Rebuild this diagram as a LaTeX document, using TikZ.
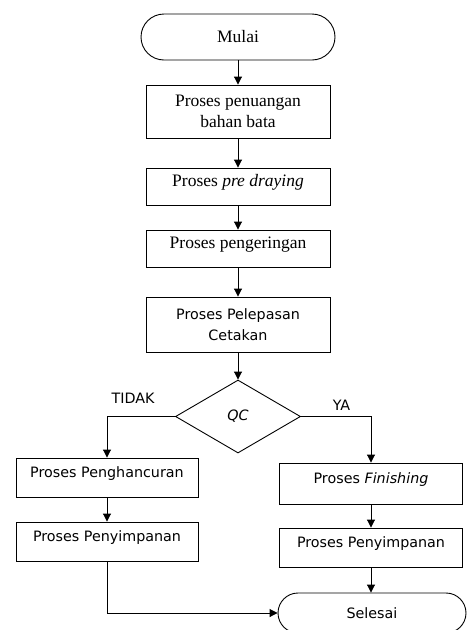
\documentclass[tikz,border=0pt]{standalone}
\usepackage{fontspec}
\setmainfont{Liberation Serif}
\newfontfamily\sansfont{DejaVu Sans}
\usetikzlibrary{arrows.meta, shapes.geometric}

\begin{document}
\begin{tikzpicture}[x=1pt, y=-1pt, line width=0.9pt,
    box/.style={draw, rectangle, inner sep=0pt, align=center},
    oneline/.style={text height=7pt, text depth=7pt},
    serif/.style={font=\fontsize{17.5}{21}\selectfont},
    sans/.style={font=\sansfont\fontsize{14.3}{21}\selectfont},
    arr/.style={-{Triangle[length=8pt, width=8pt]}}]
  \clip (0,0) rectangle (468,630);
  % ---- main column ----
  \node[box, serif, rounded corners=23pt, minimum width=194pt, minimum height=46pt]
    (mulai) at (238,37) {Mulai};
  \node[box, serif, minimum width=184pt, minimum height=53pt]
    (penuangan) at (238,111.5) {Proses penuangan\\bahan bata};
  \node[box, serif, oneline, minimum width=184pt, minimum height=37pt]
    (predrying) at (238,186.5) {Proses \textit{pre draying}};
  \node[box, serif, oneline, minimum width=184pt, minimum height=37pt]
    (pengeringan) at (238,248.5) {Proses pengeringan};
  \node[box, sans, minimum width=184pt, minimum height=55pt]
    (pelepasan) at (238,324.5) {Proses Pelepasan\\Cetakan};
  \node[draw, diamond, inner sep=0pt, minimum width=125pt, minimum height=73pt, sans]
    (qc) at (238,416.5) {\textit{QC}};
  % ---- left branch ----
  \node[box, sans, oneline, minimum width=182pt, minimum height=39pt]
    (penghancuran) at (107,477.5) {Proses Penghancuran};
  \node[box, sans, oneline, minimum width=182pt, minimum height=39pt]
    (simpankiri) at (107,541.5) {Proses Penyimpanan};
  % ---- right branch ----
  \node[box, sans, oneline, minimum width=183pt, minimum height=41pt]
    (finishing) at (371,483.5) {Proses \textit{Finishing}};
  \node[box, sans, oneline, minimum width=183pt, minimum height=39pt]
    (simpankanan) at (371,547.5) {Proses Penyimpanan};
  \node[box, sans, rounded corners=20pt, minimum width=188pt, minimum height=40pt]
    (selesai) at (372,613) {Selesai};
  % ---- labels ----
  \node[sans] (tidak) at (133,398) {TIDAK};
  \node[sans] (ya) at (341.5,405) {YA};
  % ---- arrows ----
  \draw[arr] (mulai) -- (penuangan);
  \draw[arr] (penuangan) -- (predrying);
  \draw[arr] (predrying) -- (pengeringan);
  \draw[arr] (pengeringan) -- (pelepasan);
  \draw[arr] (pelepasan) -- (qc);
  \draw[arr] (qc.west) -| (penghancuran.north);
  \draw[arr] (qc.east) -| (finishing.north);
  \draw[arr] (penghancuran) -- (simpankiri);
  \draw[arr] (finishing) -- (simpankanan);
  \draw[arr] (simpankanan.south) -- (simpankanan.south |- selesai.north);
  \draw[arr] (simpankiri.south) |- (selesai.west);
\end{tikzpicture}
\end{document}
